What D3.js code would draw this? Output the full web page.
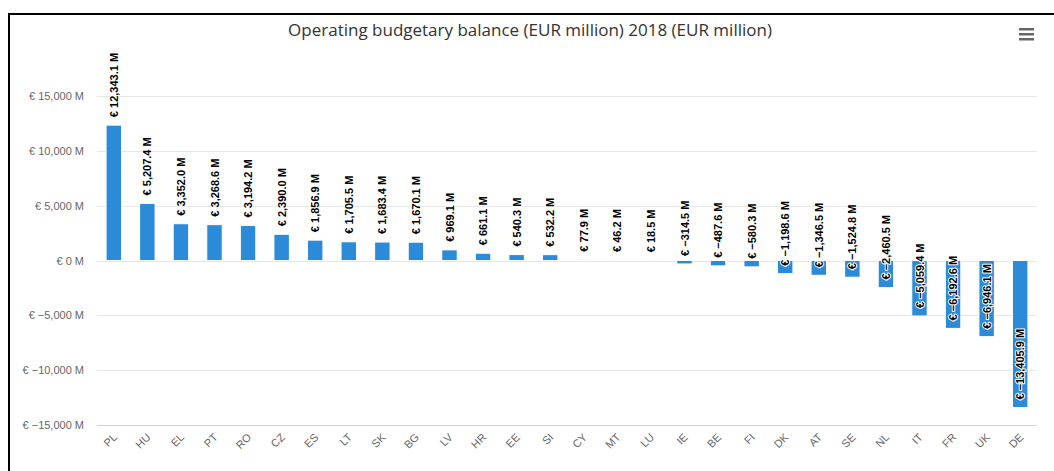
<!DOCTYPE html>
<html>
<head>
<meta charset="utf-8">
<script src="https://cdn.jsdelivr.net/npm/d3@7/dist/d3.min.js"></script>
<style>
  html, body { margin: 0; padding: 0; background: #fff; }
  svg { display: block; }
</style>
</head>
<body>
<svg id="chart" width="1054" height="471"></svg>
<script>
const categories = ["PL","HU","EL","PT","RO","CZ","ES","LT","SK","BG","LV","HR","EE","SI","CY","MT","LU","IE","BE","FI","DK","AT","SE","NL","IT","FR","UK","DE"];
const values = [12343.1, 5207.4, 3352.0, 3268.6, 3194.2, 2390.0, 1856.9, 1705.5, 1683.4, 1670.1, 969.1, 661.1, 540.3, 532.2, 77.9, 46.2, 18.5, -314.5, -487.6, -580.3, -1198.6, -1346.5, -1524.8, -2460.5, -5059.4, -6192.6, -6946.1, -13405.9];
const yTicks = [-15000, -10000, -5000, 0, 5000, 10000, 15000];
const titleText = "Operating budgetary balance (EUR million) 2018 (EUR million)";

const svg = d3.select("#chart");
const W = 1054, H = 471;
const plot = { left: 97, right: 1037, top: 96, bottom: 425 };
const font = "'Liberation Sans', Arial, sans-serif";

// frame
svg.append("line").attr("x1", 9).attr("x2", 9).attr("y1", 13).attr("y2", H)
  .attr("stroke", "#000").attr("stroke-width", 2);
svg.append("line").attr("x1", 8).attr("x2", W).attr("y1", 14).attr("y2", 14)
  .attr("stroke", "#000").attr("stroke-width", 2);

// title
svg.append("text").attr("x", 530).attr("y", 36).attr("text-anchor", "middle")
  .attr("font-family", "'Open Sans', sans-serif").attr("font-size", 17).attr("fill", "#333")
  .text(titleText);

// menu icon
[0, 5, 10].forEach(dy => {
  svg.append("rect").attr("x", 1019).attr("y", 28 + dy).attr("width", 15).attr("height", 2.5)
    .attr("fill", "#666");
});

const x = d3.scaleBand().domain(categories).range([plot.left, plot.right]).padding(0);
const y = d3.scaleLinear().domain([-15000, 15000]).range([plot.bottom, plot.top]);

const fmtTick = v => "€ " + d3.format(",")(v) + " M";
const fmtLabel = v => "€ " + d3.format(",.1f")(v) + " M";

// gridlines
svg.append("g").selectAll("line").data(yTicks).join("line")
  .attr("x1", plot.left).attr("x2", plot.right)
  .attr("y1", d => Math.round(y(d)) + 0.5).attr("y2", d => Math.round(y(d)) + 0.5)
  .attr("stroke", "#e6e6e6").attr("stroke-width", 1);

// y axis labels
const yAxis = d3.axisLeft(y).tickValues(yTicks).tickFormat(fmtTick).tickSize(0).tickPadding(0);
const gy = svg.append("g").attr("transform", `translate(84,0)`).call(yAxis);
gy.select(".domain").remove();
gy.selectAll("text").attr("font-family", font).attr("font-size", 11).attr("fill", "#666");

// x axis line
svg.append("line").attr("x1", plot.left).attr("x2", plot.right)
  .attr("y1", plot.bottom + 0.5).attr("y2", plot.bottom + 0.5)
  .attr("stroke", "#ccd6eb").attr("stroke-width", 1);

// x labels
const xAxis = d3.axisBottom(x).tickSize(0).tickPadding(0);
const gx = svg.append("g").attr("transform", `translate(0,${plot.bottom})`).call(xAxis);
gx.select(".domain").remove();
gx.selectAll("text")
  .attr("font-family", font).attr("font-size", 11).attr("fill", "#666")
  .attr("text-anchor", "end").attr("dy", null).attr("y", null)
  .attr("transform", "translate(4,13) rotate(-45)");

// bars
const barW = x.bandwidth() * 0.46;
const data = categories.map((c, i) => ({ c, v: values[i] }));
svg.append("g").selectAll("rect").data(data).join("rect")
  .attr("x", d => x(d.c) + (x.bandwidth() - barW) / 2)
  .attr("width", barW)
  .attr("y", d => Math.min(y(d.v), y(0)))
  .attr("height", d => Math.abs(y(d.v) - y(0)))
  .attr("fill", "#2b8bd8")
  .attr("stroke", "#fff").attr("stroke-width", 1);

// data labels
svg.append("g").selectAll("text").data(data).join("text")
  .attr("transform", d => `translate(${x(d.c) + x.bandwidth() / 2 + 4},${y(d.v) - 8}) rotate(-90)`)
  .attr("text-anchor", "start")
  .attr("font-family", font).attr("font-size", 11).attr("font-weight", "bold")
  .attr("fill", "#000").attr("stroke", "#fff").attr("stroke-width", 2)
  .attr("stroke-linejoin", "round").attr("paint-order", "stroke")
  .text(d => fmtLabel(d.v));
</script>
</body>
</html>
